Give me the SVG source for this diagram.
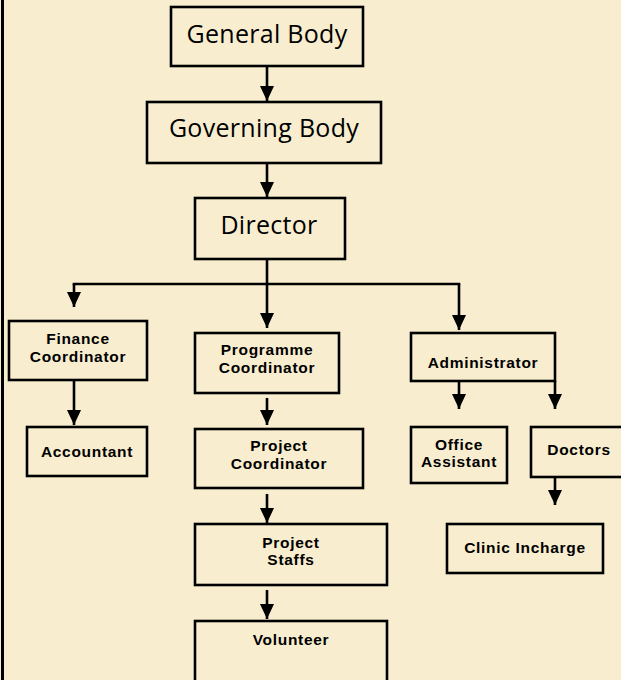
<svg xmlns="http://www.w3.org/2000/svg" width="621" height="680" viewBox="0 0 621 680">
<defs>
<marker id="ah" markerUnits="userSpaceOnUse" markerWidth="16" markerHeight="16" viewBox="0 0 16 16" refX="15" refY="8" orient="auto">
<path d="M0,1 L15,8 L0,15 Z" fill="#000"/>
</marker>
</defs>
<style>
.box{fill:none;stroke:#000;stroke-width:2.6}
.big{font-family:"Open Sans","Liberation Sans",sans-serif;font-size:25px;fill:#000;text-anchor:middle;letter-spacing:0.3px}
.sm{font-family:"Liberation Sans",Arial,sans-serif;font-size:15.5px;font-weight:bold;fill:#000;text-anchor:middle;letter-spacing:0.7px}
.c{fill:none;stroke:#000;stroke-width:2.6}
.ca{fill:none;stroke:#000;stroke-width:2.6;marker-end:url(#ah)}
</style>
<rect x="0" y="0" width="621" height="680" fill="#f8eecf"/>
<line x1="2.5" y1="0" x2="2.5" y2="680" stroke="#000" stroke-width="3"/>
<g id="connectors">
<line class="ca" x1="267" y1="66" x2="267" y2="101"/>
<line class="ca" x1="267" y1="163" x2="267" y2="197"/>
<line class="ca" x1="267" y1="259" x2="267" y2="328"/>
<line class="c" x1="72.7" y1="284" x2="460.3" y2="284"/>
<line class="ca" x1="74" y1="284" x2="74" y2="307"/>
<line class="ca" x1="459" y1="284" x2="459" y2="330"/>
<line class="ca" x1="74" y1="380" x2="74" y2="425"/>
<line class="ca" x1="267" y1="398" x2="267" y2="425"/>
<line class="ca" x1="267" y1="494" x2="267" y2="523"/>
<line class="ca" x1="267" y1="590" x2="267" y2="619"/>
<line class="ca" x1="459" y1="381" x2="459" y2="409"/>
<line class="ca" x1="555" y1="381" x2="555" y2="409"/>
<line class="ca" x1="555" y1="477" x2="555" y2="505"/>
</g>
<g id="general-body"><rect class="box" x="171" y="7" width="192" height="59"/><text class="big" x="267" y="43">General Body</text></g>
<g id="governing-body"><rect class="box" x="147" y="102" width="234" height="61"/><text class="big" x="264" y="137">Governing Body</text></g>
<g id="director"><rect class="box" x="195" y="198" width="150" height="61"/><text class="big" x="269" y="234">Director</text></g>
<g id="finance-coordinator"><rect class="box" x="9" y="321" width="138" height="59"/><text class="sm" x="78" y="344">Finance</text><text class="sm" x="78" y="361.5">Coordinator</text></g>
<g id="programme-coordinator"><rect class="box" x="195" y="333" width="144" height="60"/><text class="sm" x="267" y="355">Programme</text><text class="sm" x="267" y="372.5">Coordinator</text></g>
<g id="administrator"><rect class="box" x="411" y="333" width="144" height="48"/><text class="sm" x="483" y="368">Administrator</text></g>
<g id="accountant"><rect class="box" x="27" y="427" width="120" height="49"/><text class="sm" x="87" y="457">Accountant</text></g>
<g id="project-coordinator"><rect class="box" x="195" y="429" width="168" height="59"/><text class="sm" x="279" y="451">Project</text><text class="sm" x="279" y="468.5">Coordinator</text></g>
<g id="office-assistant"><rect class="box" x="411" y="427" width="96" height="56"/><text class="sm" x="459" y="449.5">Office</text><text class="sm" x="459" y="467">Assistant</text></g>
<g id="doctors"><rect class="box" x="531" y="427" width="97" height="50"/><text class="sm" x="579" y="455">Doctors</text></g>
<g id="project-staffs"><rect class="box" x="195" y="524" width="192" height="61"/><text class="sm" x="291" y="547.5">Project</text><text class="sm" x="291" y="565">Staffs</text></g>
<g id="clinic-incharge"><rect class="box" x="447" y="524" width="156" height="49"/><text class="sm" x="525" y="553">Clinic Incharge</text></g>
<g id="volunteer"><rect class="box" x="195" y="621" width="192" height="70"/><text class="sm" x="291" y="645">Volunteer</text></g>
</svg>
